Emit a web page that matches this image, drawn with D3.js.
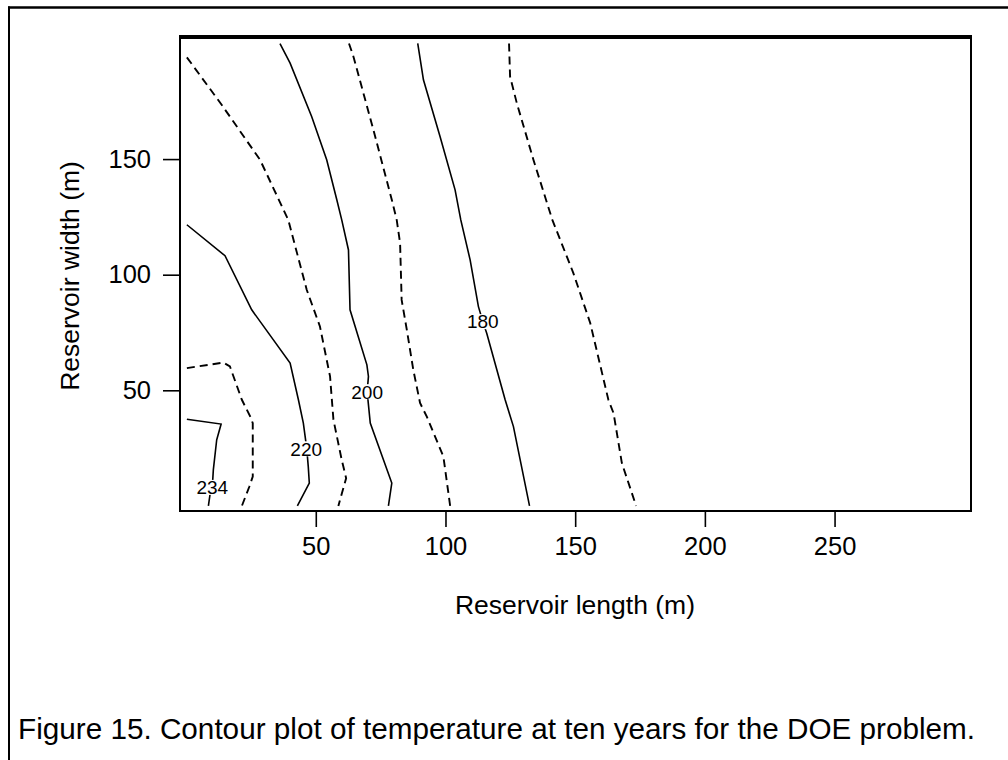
<!DOCTYPE html>
<html>
<head>
<meta charset="utf-8">
<script src="https://cdn.jsdelivr.net/npm/d3@7"></script>
<style>
  html, body { margin: 0; padding: 0; background: #fff; }
  svg { display: block; font-family: "Liberation Sans", Arial, sans-serif; }
</style>
</head>
<body>
<svg id="chart" width="1008" height="760"></svg>
<script>
// ---- data ----
const xTicks = [50, 100, 150, 200, 250];
const yTicks = [50, 100, 150];

// contour polylines, [length (m), width (m)]
const c234 = [[0.3,37.5],[13.5,35.4],[11.8,28.6],[10.5,15.6],[10.1,8.0],[9.2,4.8],[8.6,0]];
const c228 = [[0.3,59.6],[14.4,62.0],[16.9,60.3],[21.5,45.9],[24.7,38.7],[25.7,35.8],[25.7,12.7],[24.4,8.4],[21.5,0]];
const c220 = [[0.3,121.6],[15.0,108.2],[25.3,84.8],[40.1,61.8],[43.3,45.9],[45.2,35.8],[46.5,25.0],[47.1,17.0],[47.5,9.9],[42.9,0]];
const c210 = [[0.3,194.0],[13.7,173.5],[28.5,149.7],[39.4,123.7],[40.7,118.1],[46.5,93.5],[51.6,77.6],[55.5,56.0],[56.8,37.3],[60.0,19.9],[61.7,12.0],[58.7,0]];
const c200 = [[36.2,199.9],[40.1,191.5],[48.4,168.4],[54.2,149.7],[58.1,132.4],[60.0,123.7],[62.6,110.7],[63.2,84.8],[69.7,61.0],[70.3,56.0],[69.8,49.4],[71.0,35.8],[79.3,9.9],[78.0,0]];
const c190 = [[62.8,200],[64.5,194.4],[72.2,162.7],[79.3,132.4],[81.2,123.7],[82.5,113.6],[83.1,89.1],[85.1,76.1],[87.6,58.8],[90.2,44.5],[92.8,38.6],[99.2,21.3],[101.8,0]];
const c180 = [[89.3,200],[91.5,184.3],[97.9,159.8],[103.7,136.7],[105.9,123.7],[109.5,106.4],[112.7,86.2],[114.4,79.7],[115.9,74.7],[123.0,45.9],[126.2,34.3],[132.4,0]];
const c170 = [[124.5,200],[124.9,185.7],[127.5,174.2],[133.9,149.7],[141.2,123.7],[149.3,100.7],[155.8,79.1],[162.8,45.9],[164.8,40.1],[168.0,18.5],[173.5,0]];

const contourLevels = [234, 228, 220, 210, 200, 190, 180, 170];
const contourLines  = [c234, c228, c220, c210, c200, c190, c180, c170];
const contourDashed = [false, true, false, true, false, true, false, true];

const labelText = ["234", "220", "200", "180"];
const labelX = [10.1, 46.3, 69.8, 114.4];
const labelY = [8.0, 24.7, 49.4, 79.7];

const xTitle = "Reservoir length (m)";
const yTitle = "Reservoir width (m)";
const caption = "Figure 15. Contour plot of temperature at ten years for the DOE problem.";

// ---- drawing ----
const svg = d3.select("#chart");
const L = 180, R = 971, T = 37, B = 511;

const x = d3.scaleLinear().domain([-2.35, 302.6]).range([L, R]);
const y = d3.scaleLinear().domain([-2.2, 202.8]).range([B, T]);

// outer figure frame (only top and left visible)
svg.append("line").attr("x1", 8).attr("x2", 1008).attr("y1", 7.5).attr("y2", 7.5)
  .attr("stroke", "#000").attr("stroke-width", 2.5);
svg.append("line").attr("x1", 9).attr("x2", 9).attr("y1", 6.5).attr("y2", 760)
  .attr("stroke", "#000").attr("stroke-width", 2);

// contour lines
const line = d3.line().x(d => x(d[0])).y(d => y(d[1]));
svg.append("g").selectAll("path")
  .data(contourLines.map((pts, i) => ({ pts, level: contourLevels[i], dashed: contourDashed[i] })))
  .join("path")
  .attr("d", d => line(d.pts))
  .attr("fill", "none")
  .attr("stroke", "#000")
  .attr("stroke-width", d => d.dashed ? 1.9 : 1.6)
  .attr("stroke-dasharray", d => d.dashed ? "8,5" : null);

// contour labels (with a white gap behind them)
const lab = svg.append("g").selectAll("g")
  .data(labelText.map((t, i) => ({ t, x: labelX[i], y: labelY[i] })))
  .join("g")
  .attr("transform", d => `translate(${x(d.x)},${y(d.y)})`);
lab.append("rect").attr("x", -16.5).attr("y", -7.5).attr("width", 33).attr("height", 15).attr("fill", "#fff");
lab.append("text").text(d => d.t)
  .attr("text-anchor", "middle").attr("dy", "0.36em")
  .attr("font-size", 19).attr("fill", "#000");

// axes
const xAxis = d3.axisBottom(x).tickValues(xTicks).tickSize(16).tickPadding(10);
const gx = svg.append("g").attr("transform", `translate(0,${B})`).call(xAxis);
gx.select(".domain").remove();
gx.selectAll(".tick line").attr("stroke", "#000").attr("stroke-width", 1.6);
gx.selectAll(".tick text").attr("font-size", 25.5).attr("fill", "#000").attr("font-family", null);

const yAxis = d3.axisLeft(y).tickValues(yTicks).tickSize(17).tickPadding(12);
const gy = svg.append("g").attr("transform", `translate(${L},0)`).call(yAxis);
gy.select(".domain").remove();
gy.selectAll(".tick line").attr("stroke", "#000").attr("stroke-width", 1.6);
gy.selectAll(".tick text").attr("font-size", 25.5).attr("fill", "#000").attr("font-family", null);

// plot frame
svg.append("rect").attr("x", L).attr("y", T).attr("width", R - L).attr("height", B - T)
  .attr("fill", "none").attr("stroke", "#000").attr("stroke-width", 2);
svg.append("line").attr("x1", L - 1).attr("x2", R + 1).attr("y1", T).attr("y2", T)
  .attr("stroke", "#000").attr("stroke-width", 4);

// titles
svg.append("text").attr("x", 575).attr("y", 614).attr("text-anchor", "middle")
  .attr("font-size", 26.5).attr("fill", "#000").text(xTitle);
svg.append("text").attr("transform", "translate(79,276) rotate(-90)").attr("text-anchor", "middle")
  .attr("font-size", 26.5).attr("fill", "#000").text(yTitle);

// caption
svg.append("text").attr("x", 18).attr("y", 739).attr("font-size", 29.7).attr("fill", "#000").text(caption);
</script>
</body>
</html>
